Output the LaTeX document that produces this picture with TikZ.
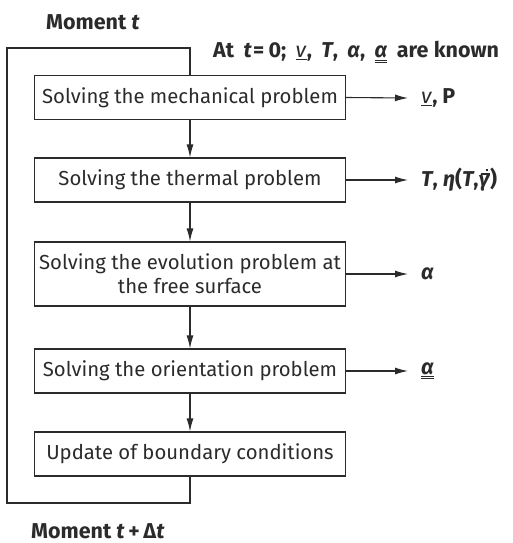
\documentclass[tikz,border=0pt]{standalone}
\usepackage{fontspec}
\setmainfont{Fira Sans}
\usetikzlibrary{arrows.meta}
\definecolor{ink}{HTML}{2B2B2B}
\newcommand\gbd{\ooalign{\textit{γ}\cr\hidewidth\kern0.1em\raisebox{0.56em}{\rule{0.42em}{0.07em}}\hidewidth\cr\hidewidth\kern0.25em\raisebox{0.72em}{\rule{0.11em}{0.11em}}\hidewidth}}
\begin{document}
\begin{tikzpicture}[x=1pt,y=-1pt,
  every node/.style={text=ink},
  stepbox/.style={draw=ink,line width=1.1pt,minimum width=311pt,minimum height=44pt,inner sep=0pt,align=center,font=\fontsize{20.3}{24}\selectfont},
  lbl/.style={anchor=west,inner sep=0pt,font=\bfseries\fontsize{21.5}{25}\selectfont},
  con/.style={draw=ink,line width=1.1pt},
  arr/.style={con,-{Latex[length=13pt,width=7pt]}}]
\useasboundingbox (0,0) rectangle (513,543);
\node[stepbox] (b1) at (190,97.5) {Solving the mechanical problem};
\node[stepbox] (b2) at (190,180) {Solving the thermal problem};
\node[stepbox,minimum height=64pt] (b3) at (190,274) {Solving the evolution problem at\\the free surface};
\node[stepbox] (b4) at (190,371) {Solving the orientation problem};
\node[stepbox] (b5) at (190,454) {Update of boundary conditions};
\node[lbl] (top) at (46,22) {Moment \textit{t}};
\node[lbl] (init) at (213,52) {\spaceskip=0.44em At \textit{t}\kern0.05em=\kern0.2em0; \underline{\mdseries\textit{v}}, \textit{T}, \textit{α}, \underline{\underline{\textit{α}}} \spaceskip=0.25em are known};
\node[lbl] (bot) at (31,531) {Moment \textit{t}\,+\,Δ\textit{t}};
\node[lbl] (o1) at (421,98) {\underline{\mdseries\textit{v}}, P};
\node[lbl] (o2) at (421,180) {\textit{T}, \textit{η}(\textit{T},\gbd)};
\node[lbl] (o3) at (421,274) {\textit{α}};
\node[lbl] (o4) at (421,371) {\underline{\underline{\textit{α}}}};
\foreach \a/\b in {b1/b2,b2/b3,b3/b4,b4/b5}
  \draw[arr] (\a.south) -- (\b.north);
\foreach \a/\b in {b1/o1,b2/o2,b3/o3,b4/o4}
  \draw[arr] (\a.east) -- (\b.west -| 408,0);
\coordinate (tl) at (7,48);
\coordinate (bl) at (7,503);
\draw[con] (b5.south) |- (bl) -- (tl) -| (b1.north);
\end{tikzpicture}
\end{document}
